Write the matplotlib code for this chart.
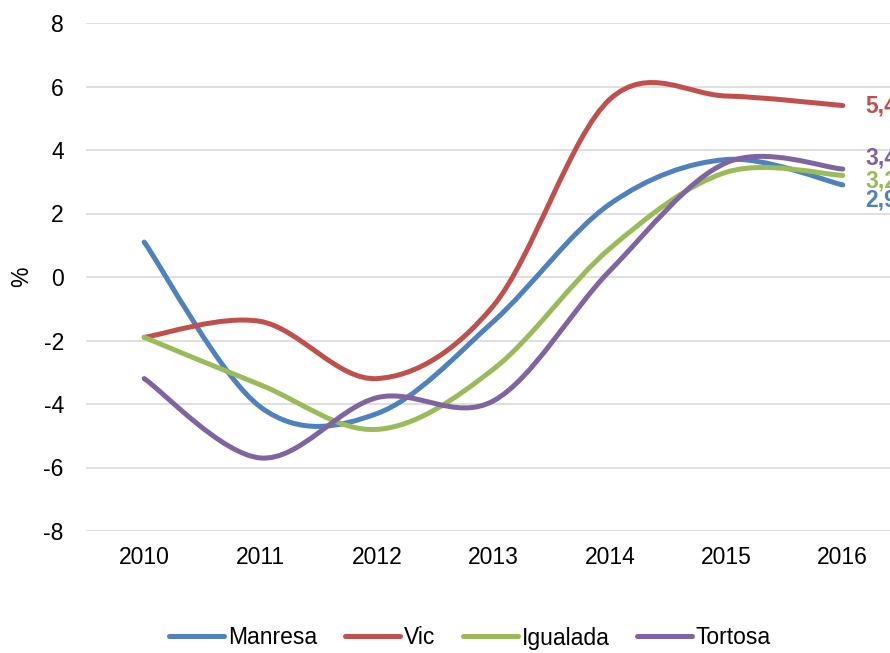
import matplotlib
matplotlib.use('Agg')
import matplotlib.pyplot as plt
from matplotlib.path import Path
from matplotlib.patches import PathPatch
from matplotlib.lines import Line2D

plt.rcParams['font.family'] = ['Liberation Sans', 'DejaVu Sans']
plt.rcParams['axes.unicode_minus'] = False

# dades llegides del gràfic
anys = ['2010', '2011', '2012', '2013', '2014', '2015', '2016']
manresa = [1.1, -4.1, -4.3, -1.4, 2.3, 3.7, 2.9]
vic = [-1.9, -1.4, -3.2, -0.9, 5.6, 5.7, 5.4]
igualada = [-1.9, -3.4, -4.8, -2.9, 0.9, 3.3, 3.2]
tortosa = [-3.2, -5.7, -3.8, -3.9, 0.2, 3.6, 3.4]

noms = ['Manresa', 'Vic', 'Igualada', 'Tortosa']
series = [manresa, vic, igualada, tortosa]
colors = ['#4F81BD', '#C0504D', '#9BBB59', '#8064A2']
# desplaçament vertical de l'etiqueta final (punts)
despl = [-11, 0, -4, 8]

fig = plt.figure(figsize=(8.9, 6.53), dpi=100)
ax = fig.add_axes([86 / 890, 122 / 653, 815 / 890, 508 / 653])


def corba_suau(xs, ys):
    # línia suavitzada tipus Excel (Catmull-Rom -> Bezier)
    pts = list(zip(xs, ys))
    n = len(pts)
    verts = [pts[0]]
    codes = [Path.MOVETO]
    for i in range(n - 1):
        p0 = pts[i - 1] if i > 0 else pts[i]
        p1 = pts[i]
        p2 = pts[i + 1]
        p3 = pts[i + 2] if i + 2 < n else pts[i + 1]
        c1 = (p1[0] + (p2[0] - p0[0]) / 6, p1[1] + (p2[1] - p0[1]) / 6)
        c2 = (p2[0] - (p3[0] - p1[0]) / 6, p2[1] - (p3[1] - p1[1]) / 6)
        verts += [c1, c2, p2]
        codes += [Path.CURVE4] * 3
    return Path(verts, codes)


x = list(range(len(anys)))
handles = []
for nom, vals, col, dy in zip(noms, series, colors, despl):
    patch = PathPatch(corba_suau(x, vals), facecolor='none', edgecolor=col,
                      lw=3.6, capstyle='round', joinstyle='round', zorder=3)
    ax.add_patch(patch)
    handles.append(Line2D([], [], color=col, lw=3.6, solid_capstyle='round', label=nom))
    ax.annotate(f'{vals[-1]:.1f}'.replace('.', ','), xy=(x[-1], vals[-1]),
                xytext=(16, dy), textcoords='offset points', color=col,
                fontsize=16.5, fontweight='bold', va='center', ha='left',
                annotation_clip=False)

ax.set_xlim(-0.5, len(anys) - 0.5)
ax.set_ylim(-8, 8)
ax.set_yticks(range(-8, 9, 2))
ax.set_xticks(x)
ax.set_xticklabels(anys)
ax.yaxis.grid(True, color='#D9D9D9', lw=1.2)
ax.set_axisbelow(True)
for s in ax.spines.values():
    s.set_visible(False)
ax.tick_params(axis='both', length=0, labelsize=16.5)
ax.tick_params(axis='y', pad=16)
ax.tick_params(axis='x', pad=11)

fig.text(22 / 890, 1 - 277 / 653, '%', rotation=90, fontsize=16.5,
         ha='center', va='center')

fig.legend(handles=handles, loc='center', bbox_to_anchor=(470 / 890, 1 - 638 / 653),
           ncol=4, frameon=False, fontsize=16.5, handlelength=2.4,
           handletextpad=0.17, columnspacing=1.2)

fig.savefig('out.png', dpi=100)
